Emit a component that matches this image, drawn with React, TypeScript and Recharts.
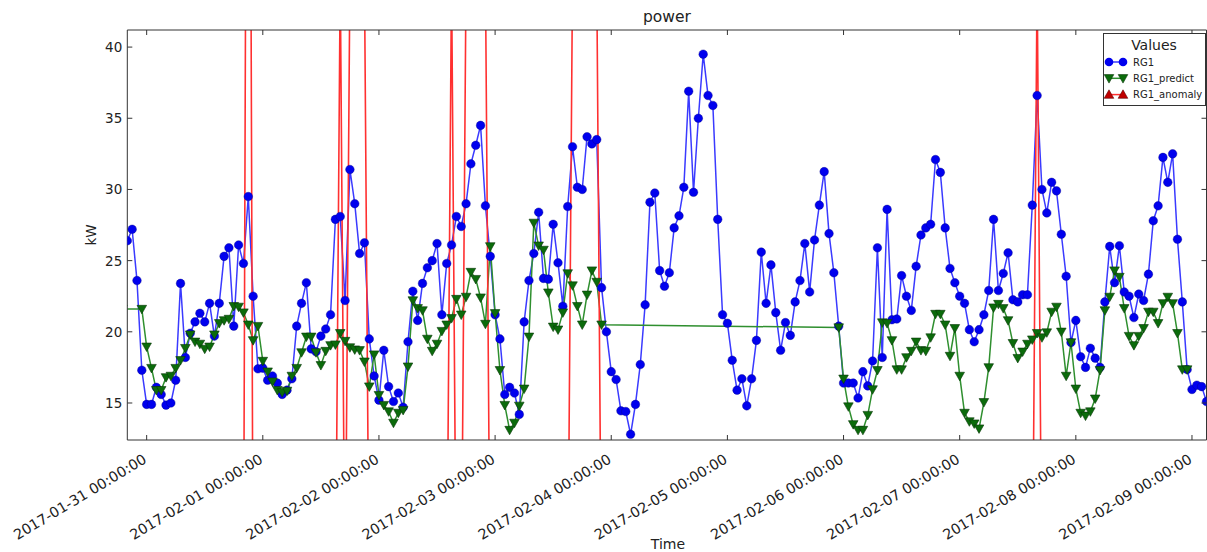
import React from 'react';
import { LineChart, Line, XAxis, YAxis } from 'recharts';

const HOUR = 3600 * 1000;
// first sample: 2017-01-30 20:00, one sample per hour
const startTime = Date.UTC(2017, 0, 30, 20);
const spanHours = 223;

const rg1 = [
  26.4, 27.2, 23.6, 17.3, 14.9, 14.9, 16.1, 15.6, 14.85, 15.0,
  16.6, 23.4, 18.2, 19.9, 20.7, 21.3, 20.7, 22.0, 19.7, 22.0,
  25.3, 25.9, 20.4, 26.1, 24.8, 29.5, 22.5, 17.4, 17.45, 16.6,
  16.9, 16.4, 15.6, 15.9, 16.7, 20.4, 22.0, 23.45, 18.8, 18.6,
  19.7, 20.2, 21.2, 27.9, 28.1, 22.2, 31.4, 29.0, 25.5, 26.25,
  19.5, 16.9, 15.2, 18.7, 16.15, 15.1, 15.7, 14.7, 19.3, 22.85,
  20.8, 23.4, 24.5, 25.0, 26.2, 21.2, 24.8, 26.1, 28.1, 27.4,
  29.0, 31.8, 33.1, 34.5, 28.85, 25.3, 21.2, 19.5, 15.6, 16.1,
  15.7, 14.2, 20.7, 23.6, 25.5, 28.4, 23.75, 23.7, 27.55, 24.85,
  21.8, 28.8, 33.0, 30.15, 30.0, 33.7, 33.2, 33.5, 23.1, 20.0,
  17.2, 16.65, 14.45, 14.4, 12.8, 14.9, 17.7, 21.9, 29.1, 29.75,
  24.3, 23.2, 24.15, 27.3, 28.15, 30.15, 36.9, 29.8, 35.0, 39.5,
  36.6, 35.9, 27.9, 21.2, 20.6, 18.0, 15.9, 16.7, 14.8, 16.7,
  19.4, 25.6, 22.0, 24.7, 21.35, 18.7, 20.65, 19.75, 22.1, 23.6,
  26.2, 22.8, 26.45, 28.9, 31.25, 26.9, 24.15, 20.4, 16.4, 16.4,
  16.4, 15.35, 17.2, 16.2, 17.95, 25.9, 18.2, 28.6, 20.85, 20.9,
  23.95, 22.5, 21.5, 24.6, 26.8, 27.3, 27.55, 32.1, 31.2, 27.3,
  24.45, 23.45, 22.5, 22.0, 20.15, 19.3, 20.15, 21.2, 22.9, 27.9,
  22.9, 24.1, 25.55, 22.25, 22.1, 22.6, 22.6, 28.9, 36.6, 30.0,
  28.35, 30.5, 29.9, 26.85, 23.9, 19.25, 20.8, 18.25, 17.5, 18.85,
  18.15, 17.5, 22.1, 26.0, 23.45, 26.05, 22.8, 22.5, 21.0, 22.65,
  22.2, 24.05, 27.8, 28.85, 32.25, 30.5, 32.5, 26.5, 22.1, 17.35,
  15.95, 16.25, 16.15, 15.1,
];

// prediction one hour before the visible window
const predictLead = 21.6;
const predictPart1Start = 3;
const predictPart1 = [
  21.6, 18.95, 17.45, 15.9, 15.9, 16.8, 16.9, 17.45, 18.0, 18.85,
  19.8, 19.3, 19.15, 18.8, 18.95, 19.8, 20.6, 20.8, 20.9, 21.8,
  21.75, 21.35, 20.5, 19.4, 20.4, 17.95, 17.2, 16.5, 15.9, 15.75,
  15.85, 16.9, 17.45, 18.55, 19.65, 19.65, 18.55, 17.65, 18.65, 19.05,
  19.1, 19.9, 19.35, 18.9, 18.75, 18.7, 17.9, 16.15, 18.4, 15.55,
  14.85, 14.4, 13.6, 14.3, 14.5, 17.55, 22.2, 21.65, 21.5, 19.5,
  18.65, 19.15, 20.05, 20.5, 20.95, 22.3, 21.2, 22.45, 24.2, 23.7,
  22.4, 20.55, 26.0, 21.3, 17.3, 14.85, 13.1, 13.6, 14.8, 16.0,
  19.65, 27.65, 26.05, 25.75, 22.75, 20.35, 20.15, 21.35, 24.1, 23.25,
  21.8, 20.5, 22.6, 24.3, 23.5, 20.5,
];
const predictPart2Start = 147;
const predictPart2 = [
  20.3, 16.7, 14.75, 13.5, 13.1, 13.1, 14.15, 15.95, 17.3, 20.65,
  20.6, 19.4, 17.35, 17.35, 18.2, 18.65, 19.3, 18.7, 18.65, 19.6,
  21.25, 21.25, 20.5, 18.3, 20.25, 16.9, 14.3, 13.7, 13.55, 13.2,
  15.05, 17.5, 21.7, 21.95, 21.65, 20.8, 19.2, 18.15, 18.6, 19.15,
  19.45, 19.9, 19.6, 19.95, 21.4, 21.75, 20.0, 16.9, 19.25, 16.0,
  14.3, 14.1, 14.4, 15.3, 17.3, 21.5, 22.45, 24.3, 23.85, 21.65,
  19.7, 19.05, 19.7, 20.25, 21.4, 21.4, 20.6, 22.0, 22.45, 22.0,
  19.9, 17.35, 17.35,
];

// anomaly series is 0 except at flagged hours
const anomalyHours = [25, 44, 46, 47, 48, 49, 67, 70, 71, 72, 73, 74, 92, 93, 94, 95, 96, 97, 188];
const anomalyScores = [100, 45, 45, 45, 45, 45, 45, 45, 45, 45, 45, 45, 45, 45, 45, 45, 45, 45, 45];

const dayTicks = [
  '2017-01-31', '2017-02-01', '2017-02-02', '2017-02-03', '2017-02-04',
  '2017-02-05', '2017-02-06', '2017-02-07', '2017-02-08', '2017-02-09',
];
const yTicks = [15, 20, 25, 30, 35, 40];
const seriesNames = ['RG1', 'RG1_predict', 'RG1_anomaly'];

const rows: any[] = [{ t: startTime - HOUR, predict: predictLead }];
rg1.forEach((v, i) => rows.push({ t: startTime + i * HOUR, rg1: v, predict: null, anomaly: 0 }));
predictPart1.forEach((v, k) => { rows[1 + predictPart1Start + k].predict = v; });
predictPart2.forEach((v, k) => { rows[1 + predictPart2Start + k].predict = v; });
anomalyHours.forEach((h, k) => { rows[1 + h].anomaly = anomalyScores[k]; });

const xTickValues = dayTicks.map((d) => Date.parse(d + 'T00:00:00Z'));
const fmtTime = (v: number) => new Date(v).toISOString().slice(0, 19).replace('T', ' ');

const FONT = 'DejaVu Sans, sans-serif';
const INK = '#222';
const SPINE = '#333';
const BLUE_LINE = '#3a3aff';
const GREEN_LINE = '#2f8f2f';
const RED_LINE = '#ff3030';

const BottomTick = ({ x, y, payload }: any) => (
  <g>
    <line x1={x} y1={y} x2={x} y2={y - 5} stroke={SPINE} />
    <text x={x + 1} y={y + 22} transform={`rotate(-31 ${x + 1} ${y + 22})`} textAnchor="end"
      fontSize={14.3} fill={INK} fontFamily={FONT}>{fmtTime(payload.value)}</text>
  </g>
);
const TopTick = ({ x, y }: any) => <line x1={x} y1={y} x2={x} y2={y + 5} stroke={SPINE} />;
const LeftTick = ({ x, y, payload }: any) => (
  <g>
    <line x1={x} y1={y} x2={x + 5} y2={y} stroke={SPINE} />
    <text x={x - 5} y={y + 5} textAnchor="end" fontSize={13.5} fill={INK} fontFamily={FONT}>{payload.value}</text>
  </g>
);
const RightTick = ({ x, y }: any) => <line x1={x} y1={y} x2={x - 5} y2={y} stroke={SPINE} />;

const triDown = (cx: number, cy: number) => `M${cx - 4.8},${cy - 3.7}L${cx + 4.8},${cy - 3.7}L${cx},${cy + 4.8}Z`;
const triUp = (cx: number, cy: number) => `M${cx - 4.8},${cy + 3.7}L${cx + 4.8},${cy + 3.7}L${cx},${cy - 4.8}Z`;

const PredictDot = (p: any) => {
  const { cx, cy, value, index } = p;
  if (cx == null || cy == null || value == null) return <g key={`pd-${index}`} />;
  return <path key={`pd-${index}`} d={triDown(cx, cy)} fill="#0b6b0b" stroke="#083808" strokeWidth={0.6} />;
};

const Overlay = () => (
  <svg width={1207} height={552} style={{ position: 'absolute', left: 0, top: 0, pointerEvents: 'none' }}>
    <text x={667} y={22} textAnchor="middle" fontSize={15.5} fill={INK} fontFamily={FONT}>power</text>
    <text x={96} y={235} transform="rotate(-90 96 235)" textAnchor="middle" fontSize={13.5} fill={INK} fontFamily={FONT}>kW</text>
    <text x={668} y={549} textAnchor="middle" fontSize={14} fill={INK} fontFamily={FONT}>Time</text>
    <g>
      <rect x={1103.5} y={33.5} width={102} height={72} fill="#fff" stroke={SPINE} />
      <text x={1154} y={50} textAnchor="middle" fontSize={14} fill={INK} fontFamily={FONT}>Values</text>
      {seriesNames.map((name, k) => {
        const cy = 62 + k * 16.3;
        const colors = [BLUE_LINE, GREEN_LINE, RED_LINE];
        return (
          <g key={name}>
            <line x1={1109} y1={cy} x2={1123} y2={cy} stroke={colors[k]} strokeWidth={1.5} />
            {[1109, 1123].map((mx) =>
              k === 0 ? <circle key={mx} cx={mx} cy={cy} r={4.3} fill="#0000ee" /> :
              k === 1 ? <path key={mx} d={triDown(mx, cy)} fill="#0b6b0b" stroke="#083808" strokeWidth={0.6} /> :
              <path key={mx} d={triUp(mx, cy)} fill="#c00000" stroke="#600000" strokeWidth={0.6} />
            )}
            <text x={1133} y={cy + 3.5} fontSize={10} fill={INK} fontFamily={FONT}>{name}</text>
          </g>
        );
      })}
    </g>
  </svg>
);

export default function App() {
  const domainX = [startTime, startTime + spanHours * HOUR];
  return (
    <div style={{ position: 'absolute', left: 0, top: 0, width: 1207, height: 552, background: '#fff' }}>
      <LineChart width={1207} height={552} data={rows} margin={{ top: 29, right: 0, bottom: 111, left: 126.3 }}>
        <XAxis xAxisId="b" dataKey="t" type="number" domain={domainX} allowDataOverflow ticks={xTickValues}
          interval={0} height={1} tickSize={0} tickMargin={0} tickLine={false} axisLine={{ stroke: SPINE }}
          tick={<BottomTick />} />
        <XAxis xAxisId="top" orientation="top" dataKey="t" type="number" domain={domainX} allowDataOverflow
          ticks={xTickValues} interval={0} height={1} tickSize={0} tickMargin={0} tickLine={false}
          axisLine={{ stroke: SPINE }} tick={<TopTick />} />
        <YAxis yAxisId="l" domain={[12.4, 41.2]} allowDataOverflow ticks={yTicks} interval={0} width={1}
          tickSize={0} tickMargin={0} tickLine={false} axisLine={{ stroke: SPINE }} tick={<LeftTick />} />
        <YAxis yAxisId="r" orientation="right" domain={[12.4, 41.2]} allowDataOverflow ticks={yTicks} interval={0}
          width={0.5} tickSize={0} tickMargin={0} tickLine={false} axisLine={{ stroke: SPINE }} tick={<RightTick />} />
        <Line xAxisId="b" yAxisId="l" dataKey="rg1" name={seriesNames[0]} stroke={BLUE_LINE} strokeWidth={1.5}
          dot={{ r: 4.3, fill: '#0000ee', stroke: '#000088', strokeWidth: 0.4 }} activeDot={false} isAnimationActive={false} />
        <Line xAxisId="b" yAxisId="l" dataKey="predict" name={seriesNames[1]} stroke={GREEN_LINE} strokeWidth={1.5}
          connectNulls dot={PredictDot} activeDot={false} isAnimationActive={false} />
        <Line xAxisId="b" yAxisId="l" dataKey="anomaly" name={seriesNames[2]} stroke={RED_LINE} strokeWidth={1.6}
          dot={false} activeDot={false} isAnimationActive={false} />
      </LineChart>
      <Overlay />
    </div>
  );
}
